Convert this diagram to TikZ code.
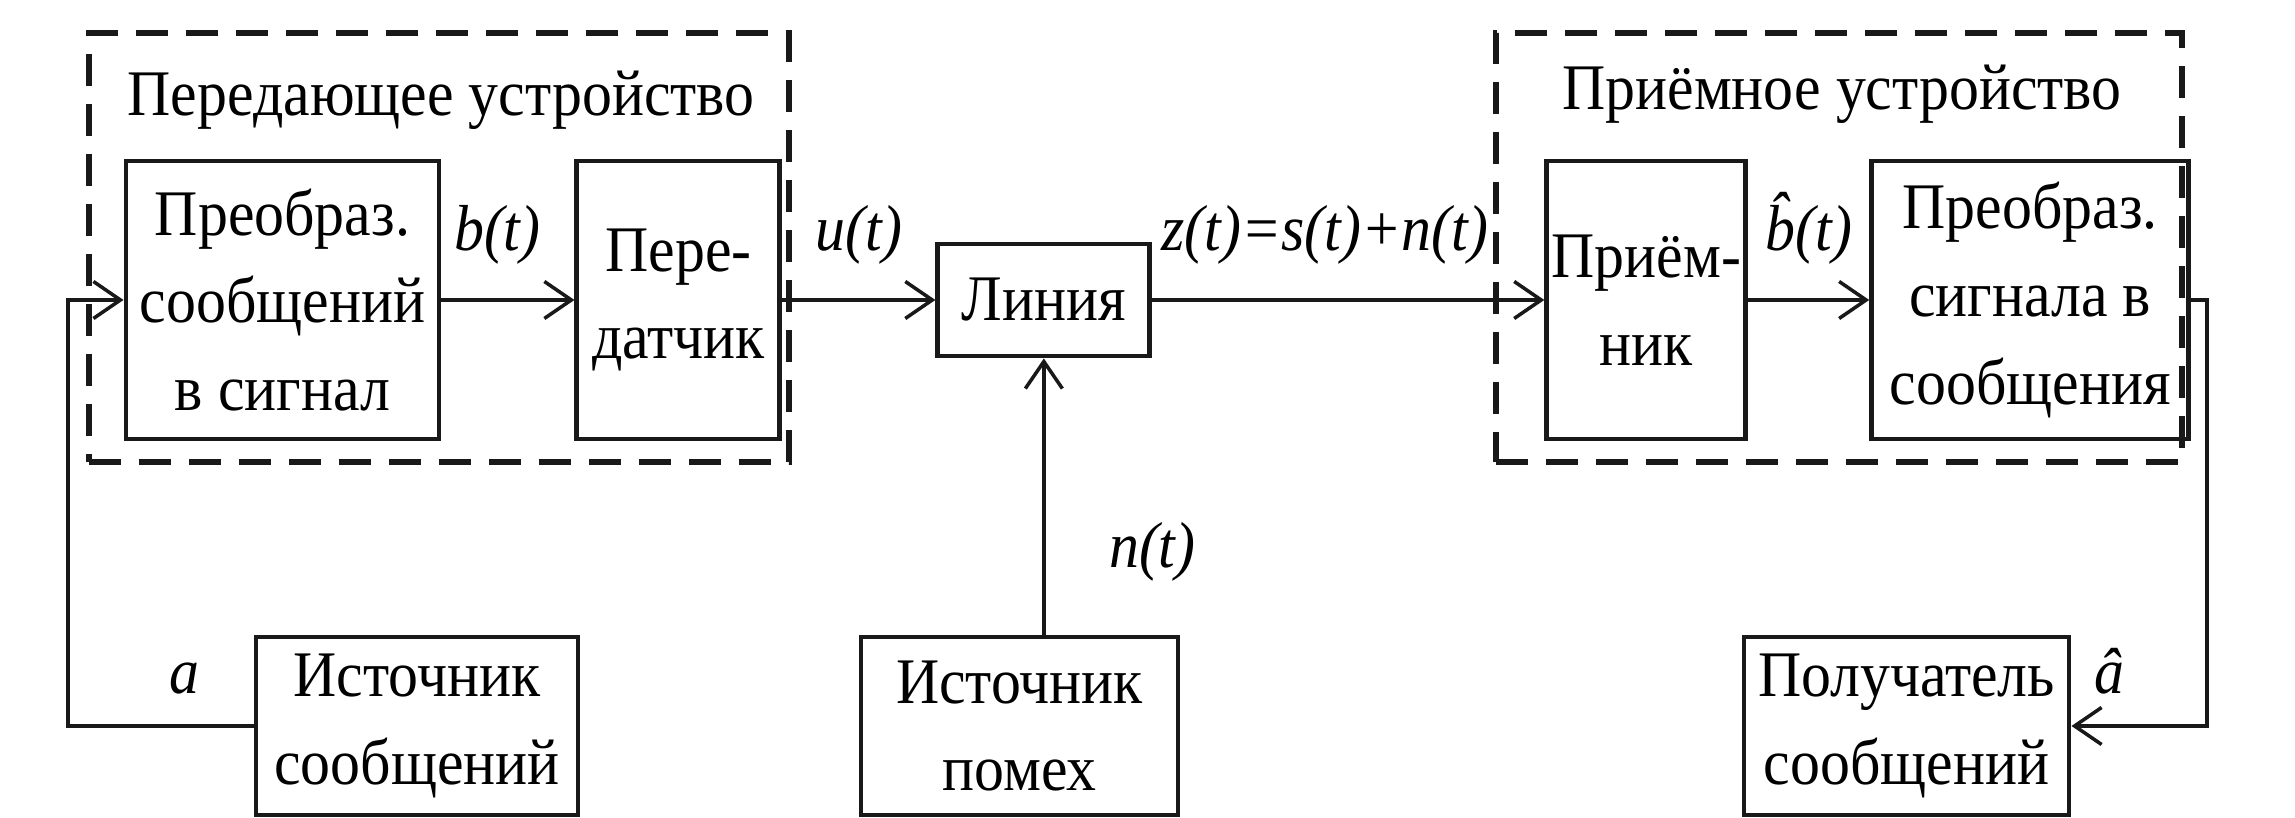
\documentclass[tikz,border=0pt]{standalone}
\usepackage{fontspec}
\setmainfont{Liberation Serif}[FakeStretch=0.92]
\usepackage{tikz}
\usetikzlibrary{positioning,arrows.meta,calc}
\definecolor{Ink}{RGB}{25,25,25}
\tikzset{
  flow/.style={-{Straight Barb[length=2.7mm,width=3.7mm]},line width=1pt,draw=Ink},
  box/.style={draw=Ink,line width=1.4pt,minimum height=2.78cm,inner sep=0pt,
    align=center,font=\fontsize{18.5}{25}\selectfont},
  group/.style={draw=Ink,line width=1.5pt,dash pattern=on 0.32cm off 0.18cm},
  lbl/.style={font=\fontsize{18.5}{25}\selectfont\itshape,inner sep=1pt},
  heading/.style={font=\fontsize{18.5}{25}\selectfont,anchor=base}
}

\begin{document}
\begin{tikzpicture}
  \useasboundingbox (0,0) rectangle (22.95,8.18);
  % main row
  \node[box,minimum width=3.13cm] (conv1) at (2.825,5.18) {Преобраз.\\сообщений\\в сигнал};
  \node[box,right=1.33cm of conv1,minimum width=2.03cm] (tx) {Пере-\\датчик};
  \node[box,right=1.53cm of tx,minimum width=2.12cm,minimum height=1.12cm] (line) {Линия};
  \node[box,right=3.92cm of line,minimum width=1.99cm] (rx) {Приём-\\ник};
  \node[box,right=1.21cm of rx,minimum width=3.17cm] (conv2) {Преобраз.\\сигнала в\\сообщения};
  % bottom row
  \node[box,minimum width=3.22cm,minimum height=1.78cm] (src) at (4.17,0.92) {Источник\\сообщений};
  \node[box,minimum width=3.17cm,minimum height=1.78cm] (noise) at (10.195,0.92) {Источник\\помех};
  \node[box,minimum width=3.25cm,minimum height=1.78cm] (sink) at (19.065,0.92) {Получатель\\сообщений};
  % device frames
  \node[group,minimum width=7.0cm,minimum height=4.29cm] (txdev) at (4.39,5.705) {};
  \node[group,minimum width=6.86cm,minimum height=4.29cm] (rxdev) at (18.39,5.705) {};
  \node[heading] (txname) at (4.41,7.02) {Передающее устройство};
  \node[heading] (rxname) at (18.42,7.08) {Приёмное устройство};
  % signal path
  \draw[flow] (conv1) -- node[lbl,above=0.3cm,pos=0.42] (bt) {b(t)} (tx);
  \draw[flow] (tx) -- node[lbl,above=0.3cm] (ut) {u(t)} (line);
  \draw[flow] (line) -- node[lbl,above=0.3cm,pos=0.44] (zt) {z(t)=s(t)+n(t)} (rx);
  \draw[flow] (rx) -- node[lbl,above=0.3cm] (bhat) {\^{b}(t)} (conv2);
  \draw[flow] (noise.north -| line.south) -- node[lbl,right=0.6cm,pos=0.3] (nt) {n(t)} (line.south);
  % feedback paths
  \coordinate (fbL) at (0.68,0);
  \coordinate (fbR) at (22.07,0);
  \draw[flow] (src.west) -- node[lbl,above=0.27cm,pos=0.37] (la) {a} (src.west -| fbL) |- (conv1.west);
  \draw[flow] (conv2.east) -- (conv2.east -| fbR) -- (sink.east -| fbR)
    -- node[lbl,above=0.27cm,pos=0.72] (lahat) {\^{a}} (sink.east);
\end{tikzpicture}
\end{document}
